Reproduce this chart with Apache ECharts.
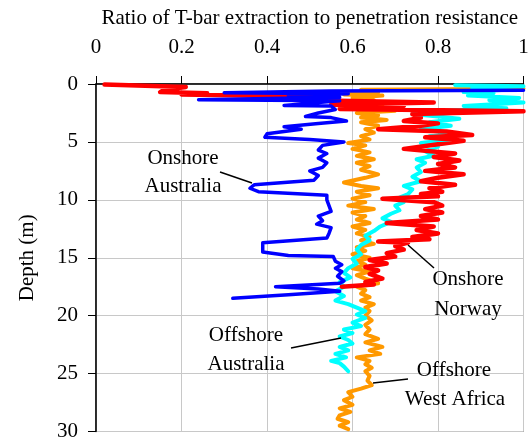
<!DOCTYPE html>
<html>
<head>
<meta charset="utf-8">
<script src="https://cdn.jsdelivr.net/npm/echarts@6/dist/echarts.min.js"></script>
<style>
  html, body { margin: 0; padding: 0; background: #fff; }
  #chart { width: 528px; height: 443px; }
</style>
</head>
<body>
<div id="chart"></div>
<script>
// T-bar extraction / penetration resistance ratio profiles with depth

const xTicks = [0, 0.2, 0.4, 0.6, 0.8, 1];
const yTicks = [0, 5, 10, 15, 20, 25, 30];

// Offshore West Africa
const waRatio = [1.0, 0.62, 0.66, 0.58, 0.67, 0.60, 0.65, 0.61, 0.67, 0.62, 0.70, 0.61, 0.66, 0.62, 0.68, 0.62, 0.66, 0.63, 0.65, 0.62,
  0.64, 0.59, 0.63, 0.60, 0.64, 0.61, 0.65, 0.61, 0.64, 0.62, 0.66, 0.63, 0.58, 0.62, 0.66, 0.61, 0.64, 0.60, 0.63, 0.59,
  0.65, 0.60, 0.63, 0.61, 0.64, 0.60, 0.63, 0.61, 0.64, 0.62, 0.65, 0.61, 0.63, 0.60, 0.64, 0.61, 0.63, 0.60, 0.64, 0.61,
  0.63, 0.66, 0.61, 0.63, 0.62, 0.64, 0.62, 0.65, 0.63, 0.64, 0.63, 0.645, 0.63, 0.64, 0.63, 0.66, 0.63, 0.67, 0.64, 0.665,
  0.61, 0.64, 0.63, 0.645, 0.63, 0.64, 0.635, 0.645, 0.62, 0.59, 0.60, 0.58, 0.60, 0.57, 0.595, 0.57, 0.565, 0.59, 0.57, 0.59];
const waDepth = [0.4, 0.5, 0.7, 0.9, 1.0, 1.2, 1.4, 1.6, 1.8, 2.0, 2.3, 2.5, 2.7, 2.9, 3.1, 3.3, 3.6, 3.9, 4.2, 4.5,
  4.8, 5.1, 5.3, 5.6, 5.9, 6.2, 6.5, 6.8, 7.1, 7.4, 7.8, 8.1, 8.5, 8.8, 9.0, 9.3, 9.6, 9.9, 10.2, 10.5,
  10.8, 11.1, 11.4, 11.7, 12.0, 12.3, 12.6, 12.9, 13.2, 13.5, 13.8, 14.1, 14.4, 14.7, 15.0, 15.3, 15.6, 15.9, 16.2, 16.5,
  16.8, 17.2, 17.5, 17.8, 18.1, 18.4, 18.7, 19.0, 19.3, 19.6, 20.0, 20.4, 20.8, 21.2, 21.6, 22.0, 22.3, 22.7, 23.0, 23.3,
  23.6, 23.9, 24.2, 24.5, 24.8, 25.2, 25.6, 26.0, 26.3, 26.6, 27.0, 27.3, 27.7, 28.0, 28.3, 28.6, 28.9, 29.2, 29.5, 29.8];

// Offshore Australia
const oaRatio = [0.84, 1.0, 0.88, 0.96, 0.86, 0.93, 0.87, 0.99, 0.92, 1.0, 0.86, 0.96, 0.80, 0.74, 0.80, 0.85, 0.78, 0.83, 0.76, 0.82,
  0.78, 0.83, 0.76, 0.80, 0.77, 0.79, 0.75, 0.77, 0.75, 0.76, 0.74, 0.76, 0.72, 0.74, 0.73, 0.71, 0.72, 0.70, 0.71, 0.69,
  0.67, 0.69, 0.665, 0.65, 0.63, 0.64, 0.62, 0.61, 0.62, 0.60, 0.61, 0.59, 0.58, 0.595, 0.57, 0.58, 0.56, 0.58, 0.56, 0.59,
  0.61, 0.63, 0.61, 0.63, 0.60, 0.62, 0.58, 0.60, 0.57, 0.59, 0.60, 0.57, 0.59, 0.56, 0.585, 0.55, 0.57, 0.58, 0.59];
const oaDepth = [0.1, 0.2, 0.35, 0.5, 0.7, 0.8, 1.0, 1.2, 1.4, 1.6, 1.9, 2.1, 2.3, 2.6, 2.8, 3.0, 3.3, 3.6, 3.9, 4.2,
  4.5, 4.8, 5.1, 5.4, 5.8, 6.2, 6.5, 6.8, 7.2, 7.6, 8.0, 8.4, 8.8, 9.1, 9.5, 9.8, 10.2, 10.5, 10.9, 11.2,
  11.6, 11.9, 12.3, 12.7, 13.1, 13.5, 13.9, 14.3, 14.7, 15.1, 15.5, 15.9, 16.3, 16.7, 17.1, 17.5, 17.9, 18.3, 18.7, 19.0,
  19.3, 19.6, 19.9, 20.2, 20.6, 20.9, 21.2, 21.5, 21.8, 22.1, 22.4, 22.7, 23.0, 23.3, 23.6, 23.9, 24.1, 24.4, 24.8];

// Onshore Norway
const noRatio = [0.02, 0.21, 0.16, 0.15, 0.26, 0.20, 0.55, 0.30, 0.50, 0.79, 0.55, 0.72, 0.57, 1.0, 0.74, 0.76, 0.72, 0.80, 0.76, 0.66,
  0.82, 0.88, 0.77, 0.86, 0.80, 0.72, 0.84, 0.79, 0.85, 0.80, 0.84, 0.77, 0.86, 0.80, 0.76, 0.84, 0.78, 0.81, 0.76, 0.80,
  0.67, 0.79, 0.81, 0.77, 0.81, 0.76, 0.80, 0.68, 0.79, 0.75, 0.80, 0.74, 0.78, 0.66, 0.73, 0.70, 0.72, 0.68, 0.70, 0.64,
  0.68, 0.63, 0.66, 0.64, 0.67, 0.63, 0.65, 0.575];
const noDepth = [0.05, 0.25, 0.5, 0.7, 0.8, 0.9, 1.1, 1.2, 1.4, 1.6, 1.8, 1.9, 2.15, 2.35, 2.6, 2.9, 3.2, 3.4, 3.6, 3.9,
  4.1, 4.4, 4.6, 4.9, 5.2, 5.6, 6.0, 6.3, 6.6, 6.9, 7.2, 7.5, 7.8, 8.1, 8.4, 8.7, 9.0, 9.3, 9.5, 9.7,
  9.9, 10.2, 10.5, 10.8, 11.1, 11.4, 11.7, 12.0, 12.3, 12.6, 12.9, 13.2, 13.4, 13.6, 13.7, 14.0, 14.3, 14.6, 14.9, 15.2,
  15.5, 15.8, 16.1, 16.4, 16.8, 17.1, 17.3, 17.5];

// Onshore Australia
const auRatio = [1.0, 0.55, 0.30, 0.59, 0.45, 0.57, 0.24, 0.57, 0.52, 0.44, 0.55, 0.56, 0.52, 0.49, 0.55, 0.586, 0.52, 0.44, 0.48, 0.40,
  0.395, 0.50, 0.58, 0.53, 0.52, 0.54, 0.52, 0.54, 0.53, 0.50, 0.52, 0.51, 0.44, 0.37, 0.36, 0.38, 0.54, 0.54, 0.545, 0.55,
  0.52, 0.53, 0.516, 0.55, 0.545, 0.54, 0.39, 0.39, 0.39, 0.45, 0.555, 0.56, 0.575, 0.56, 0.575, 0.565, 0.58, 0.57, 0.42, 0.52,
  0.57, 0.45, 0.32];
const auDepth = [0.55, 0.6, 0.75, 0.85, 1.0, 1.15, 1.35, 1.45, 1.6, 1.85, 1.9, 2.2, 2.5, 2.8, 2.9, 3.2, 3.4, 3.7, 3.9, 4.3,
  4.6, 4.8, 5.0, 5.3, 5.7, 6.0, 6.4, 6.8, 7.2, 7.5, 7.9, 8.3, 8.5, 8.7, 9.0, 9.3, 9.6, 10.0, 10.5, 11.0,
  11.4, 11.8, 12.1, 12.4, 12.9, 13.3, 13.7, 14.1, 14.5, 14.8, 14.9, 15.3, 15.6, 15.9, 16.2, 16.6, 17.0, 17.2, 17.5, 17.7,
  17.9, 18.2, 18.5];

const pairs = (r, d) => r.map((v, i) => [v, d[i]]);

const SERIF = "'Liberation Serif', 'Times New Roman', serif";
const FS = 21;

const chart = echarts.init(document.getElementById('chart'), null, { renderer: 'canvas' });

function lineSeries(name, data, color, width) {
  return {
    name, type: 'line', data, showSymbol: false, symbol: 'none',
    lineStyle: { color, width, join: 'round', cap: 'round' },
    clip: true, z: 3
  };
}

// annotation text centred on (x, y)
function label(text, x, y) {
  return { type: 'text', x, y, z: 10,
    style: { text, font: FS + 'px ' + SERIF, fill: '#000', align: 'center', verticalAlign: 'middle',
      textAlign: 'center', textVerticalAlign: 'middle' } };
}
function leader(x1, y1, x2, y2) {
  return { type: 'line', z: 10, shape: { x1, y1, x2, y2 }, style: { stroke: '#000', lineWidth: 1.5 } };
}

chart.setOption({
  animation: false,
  backgroundColor: '#fff',
  grid: { left: 96, right: 4.5, top: 84, bottom: 11.5, show: true, borderColor: '#444', borderWidth: 1,
    containLabel: false, outerBoundsMode: 'none' },
  xAxis: {
    type: 'value', position: 'top', min: xTicks[0], max: xTicks[xTicks.length - 1], interval: 0.2,
    name: 'Ratio of T-bar extraction to penetration resistance', nameLocation: 'middle', nameGap: 55,
    nameTextStyle: { fontFamily: SERIF, fontSize: FS, color: '#000' },
    axisLine: { show: true, lineStyle: { color: '#000', width: 1.5 } },
    axisTick: { show: true, length: 8, inside: false, lineStyle: { color: '#000' } },
    axisLabel: { fontFamily: SERIF, fontSize: FS, color: '#000', margin: 26,
      formatter: v => String(Math.round(v * 10) / 10) },
    splitLine: { show: true, lineStyle: { color: '#c8c8c8', width: 1 } }
  },
  yAxis: {
    type: 'value', inverse: true, min: yTicks[0], max: yTicks[yTicks.length - 1], interval: 5,
    name: 'Depth (m)', nameLocation: 'middle', nameGap: 58, nameRotate: 90,
    nameTextStyle: { fontFamily: SERIF, fontSize: FS, color: '#000' },
    axisLine: { show: true, lineStyle: { color: '#000', width: 1.5 } },
    axisTick: { show: true, length: 8, lineStyle: { color: '#000' } },
    axisLabel: { fontFamily: SERIF, fontSize: FS, color: '#000', margin: 18 },
    splitLine: { show: true, lineStyle: { color: '#c8c8c8', width: 1 } }
  },
  series: [
    lineSeries('Offshore West Africa', pairs(waRatio, waDepth), '#ff9900', 4),
    lineSeries('Offshore Australia', pairs(oaRatio, oaDepth), '#00ffff', 4),
    lineSeries('Onshore Norway', pairs(noRatio, noDepth), '#ff0000', 4.5),
    lineSeries('Onshore Australia', pairs(auRatio, auDepth), '#0000ff', 3.5)
  ],
  graphic: [
    label('Onshore', 183, 158), label('Australia', 183, 186),
    leader(220, 172, 252, 183),
    label('Onshore', 468, 279), label('Norway', 468, 309),
    leader(408, 245, 434, 268),
    label('Offshore', 246, 335), label('Australia', 246, 364),
    leader(291, 348, 341, 338),
    label('Offshore', 454, 370), label('West Africa', 455, 399),
    leader(373, 383, 408, 379)
  ]
});
</script>
</body>
</html>
